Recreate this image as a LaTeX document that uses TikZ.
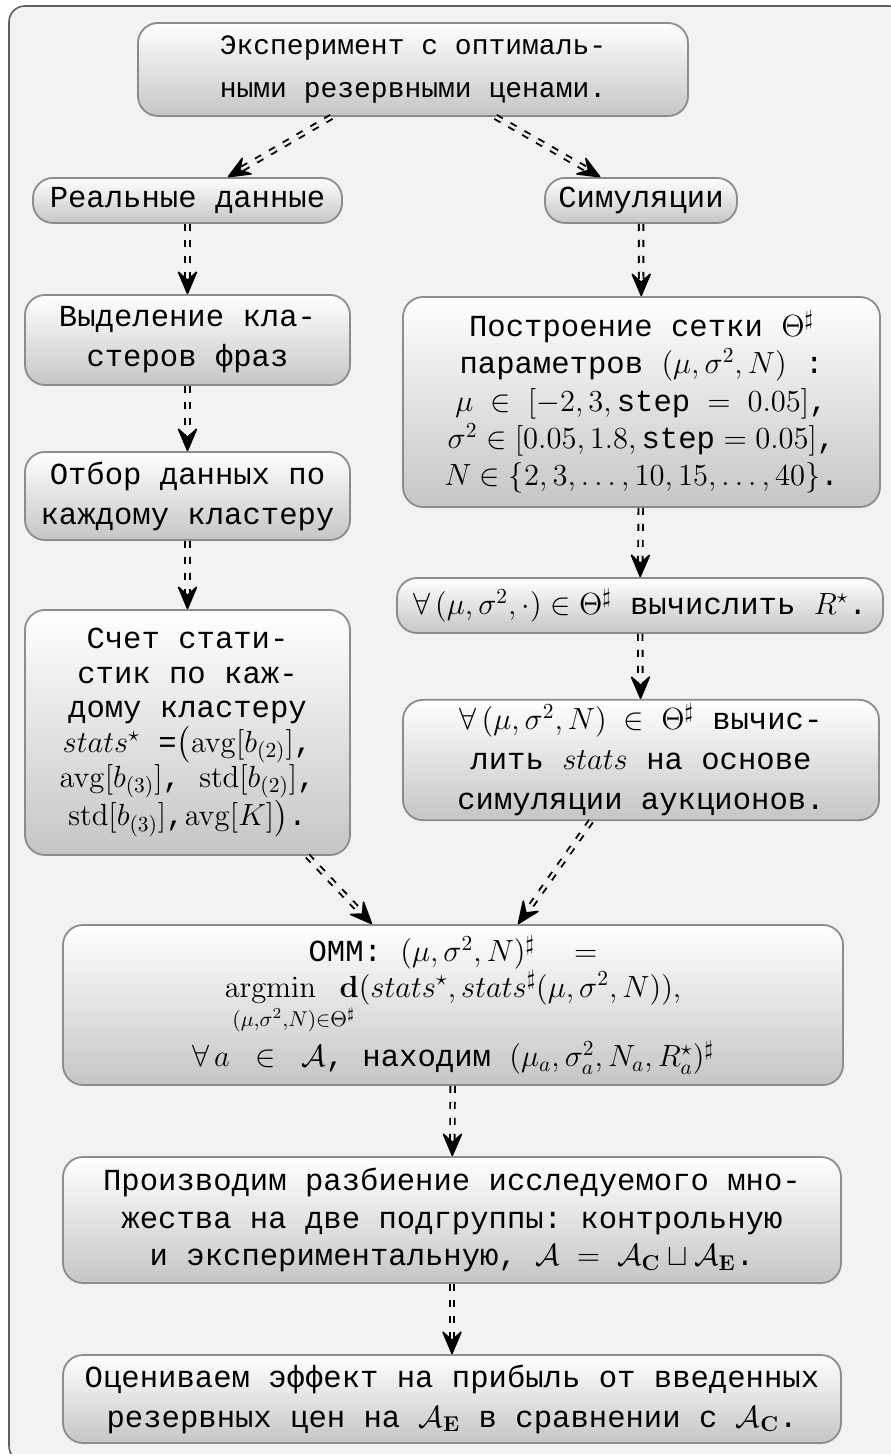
\RequirePackage{fix-cm}
\documentclass[tikz,border=0pt]{standalone}
\usepackage{amsmath,amssymb,mathtools}
\usepackage[no-math]{fontspec}
\newfontfamily\mono{Liberation Mono}
\setmonofont{Liberation Mono}
\definecolor{pagebg}{RGB}{242,242,242}
\usetikzlibrary{arrows.meta}

\begin{document}
\begin{tikzpicture}[x=0.5pt, y=-0.5pt,
    stage/.style={draw=gray!90, line width=0.9pt, rounded corners=10pt,
      top color=white, bottom color=gray!45, align=center, inner sep=2pt,
      font=\mono\fontsize{15.3}{19}\selectfont},
    lnskip/.style={font=\mono\fontsize{15.3}{#1}\selectfont},
    flow/.style={
      postaction={draw, double=pagebg, double distance=1.3pt, line width=0.95pt,
        dash pattern=on 3.5pt off 4.5pt, shorten >=8pt},
      postaction={draw, line width=0.8pt, dash pattern=on 0pt off 2000pt,
        -{Stealth[length=13pt, width=11pt, inset=5pt, round]}}}]
    \useasboundingbox (0,0) rectangle (890,1454);
    % page frame
    \filldraw[fill=pagebg, draw=gray!75!black, line width=0.8pt, rounded corners=8pt]
      (9,6) rectangle (905,1462);

    % start
    \node[stage, minimum width=275pt, minimum height=46.5pt,
          font=\mono\fontsize{14}{21.5}\selectfont] (exper) at (413,69.5)
      {Эксперимент с оптималь-\\ными резервными ценами.};

    % left branch: real data
    \node[stage, minimum width=154.5pt, minimum height=22.5pt] (real) at (187.5,200.5)
      {Реальные данные};
    \node[stage, minimum width=162.5pt, minimum height=45pt, lnskip=20] (clust) at (187.5,340)
      {Выделение кла-\\стеров фраз};
    \node[stage, minimum width=162.5pt, minimum height=44pt, lnskip=20] (select) at (187.5,496)
      {Отбор данных по\\каждому кластеру};
    \node[stage, minimum width=162.5pt, minimum height=122.5pt, lnskip=17.3] (stats) at (187.5,732.5)
      {Счет стати-\\стик по каж-\\дому кластеру\\
       $stats^{\star}$ =$\bigl(\mathrm{avg}[b_{(2)}]$,\\
       $\mathrm{avg}[b_{(3)}]$, $\mathrm{std}[b_{(2)}]$,\\
       $\mathrm{std}[b_{(3)}]$,$\mathrm{avg}[K]\bigr)$.};

    % right branch: simulations
    \node[stage, minimum width=96pt, minimum height=22.5pt] (simul) at (641,200.5)
      {Симуляции};
    \node[stage, minimum width=238.5pt, minimum height=105pt, lnskip=18.7] (grid) at (641.5,402)
      {Построение сетки $\Theta^{\sharp}$\\
       параметров $(\mu,\sigma^2,N)$ :\\
       $\mu\;\in\;[-2,3,\texttt{step}\;=\;0.05]$,\\
       $\sigma^2\in[0.05,1.8,\texttt{step}=0.05]$,\\
       $N\in\{2,3,\ldots,10,15,\ldots,40\}$.};
    \node[stage, minimum width=243pt, minimum height=27.5pt] (rstar) at (640,605.5)
      {$\forall\,(\mu,\sigma^2,\cdot)\in\Theta^{\sharp}$ вычислить $R^{\star}$.};
    \node[stage, minimum width=238pt, minimum height=55pt, lnskip=20] (simst) at (641,760)
      {$\forall\,(\mu,\sigma^2,N)\;\in\;\Theta^{\sharp}$ вычис-\\
       лить $stats$ на основе\\симуляции аукционов.};

    % merge
    \node[stage, minimum width=390pt, minimum height=80pt, lnskip=16] (omm) at (453,1005)
      {ОММ: $(\mu,\sigma^2,N)^{\sharp}\quad=$\\
       $\mathop{\mathrm{argmin}}\limits_{\mathrlap{\kern-19pt(\mu,\sigma^2,N)\in\Theta^{\sharp}}}\
        \mathbf{d}(stats^{\star},stats^{\sharp}(\mu,\sigma^2,N)),$\\[2pt]
       $\forall\,a\;\;\in\;\;\mathcal{A}$, находим $(\mu_a,\sigma_a^2,N_a,R_a^{\star})^{\sharp}$};
    \node[stage, minimum width=389pt, minimum height=63pt, lnskip=18.75] (split) at (452,1220)
      {Производим разбиение исследуемого мно-\\
       жества на две подгруппы: контрольную\\
       и экспериментальную, $\mathcal{A}\;=\;\mathcal{A}_{\mathbf{C}}\sqcup\mathcal{A}_{\mathbf{E}}$.};
    \node[stage, minimum width=389pt, minimum height=44pt, lnskip=20] (effect) at (452,1399)
      {Оцениваем эффект на прибыль от введенных\\
       резервных цен на $\mathcal{A}_{\mathbf{E}}$ в сравнении с $\mathcal{A}_{\mathbf{C}}$.};

    % connectors
    \path[flow] (exper) -- (real);
    \path[flow] (exper) -- (simul);
    \path[flow] (real) -- (clust);
    \path[flow] (clust) -- (select);
    \path[flow] (select) -- (stats);
    \path[flow] (simul) -- (grid);
    \path[flow] (grid) -- (rstar);
    \path[flow] (rstar) -- (simst);
    \path[flow] ([xshift=60pt]stats.south) -- ([xshift=-40.5pt]omm.north);
    \path[flow] ([xshift=-25pt]simst.south) -- ([xshift=32.5pt]omm.north);
    \path[flow] (omm) -- (split);
    \path[flow] (split) -- (effect);
\end{tikzpicture}
\end{document}
